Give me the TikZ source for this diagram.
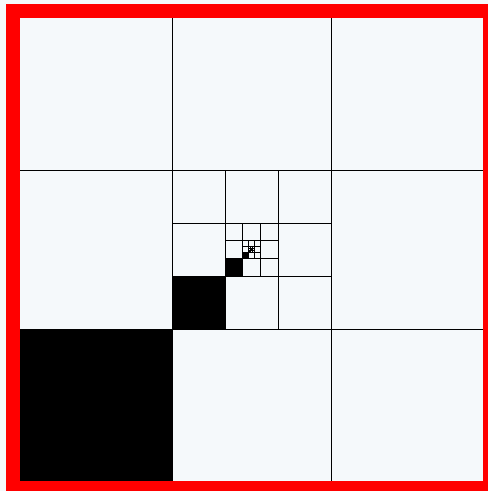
\documentclass[tikz,border=0pt]{standalone}
\usetikzlibrary{calc}
\definecolor{paleblue}{RGB}{245,249,251}
\definecolor{framered}{RGB}{255,0,0}

\begin{document}
\begin{tikzpicture}[x=1pt,y=-1pt,
    gridline/.style={draw=black,line width=1pt},
    solidcell/.style={fill=black},
    redframe/.style={draw=framered,line width=14pt}
  ]
  \fill[paleblue] (0,0) rectangle (488,491);
  \useasboundingbox (0,0) rectangle (488,491);
  \coordinate (c) at (251.5,249.5);

  % one level per pass, each inside the centre cell of the last
  \foreach \k in {0,...,6}{
    \pgfmathsetmacro\h{477/3^\k/2}
    \pgfmathsetmacro\t{\h/3}
    \fill[solidcell] ($(c)+(-\h,\t)$) rectangle ($(c)+(-\t,\h)$);
    \draw[gridline] ($(c)+(-\h,-\h)$) rectangle ($(c)+(\h,\h)$)
      ($(c)+(-\t,-\h)$) -- ($(c)+(-\t,\h)$)
      ($(c)+(\t,-\h)$) -- ($(c)+(\t,\h)$)
      ($(c)+(-\h,-\t)$) -- ($(c)+(\h,-\t)$)
      ($(c)+(-\h,\t)$) -- ($(c)+(\h,\t)$);
  }

  \draw[redframe] ($(c)+(-238.5,-238.5)$) rectangle ($(c)+(238.5,238.5)$);
\end{tikzpicture}
\end{document}
